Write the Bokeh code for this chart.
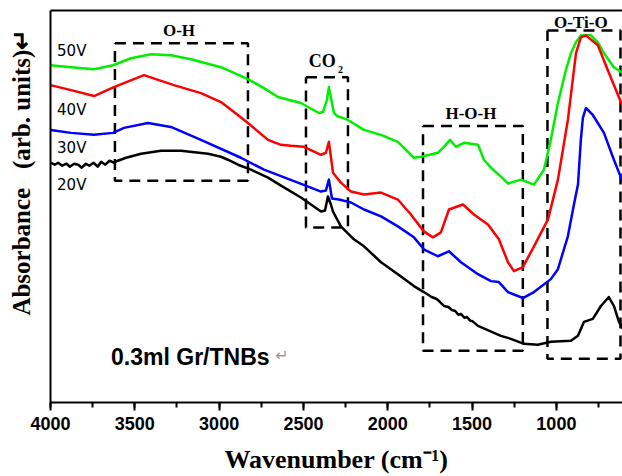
from bokeh.plotting import figure
from bokeh.models import Range1d, LinearAxis, SingleIntervalTicker, FixedTicker, Label
from bokeh.embed import file_html
from bokeh.resources import INLINE

# ---------------- data (absorbance in arbitrary units) ----------------
wn_50 = [4000, 3878, 3742, 3629, 3523, 3404, 3286, 3167, 2989, 2829, 2734, 2651, 2515, 2408, 2384,
         2361, 2349, 2337, 2319, 2301, 2236, 2141, 2040, 1940, 1845, 1803, 1703, 1667, 1631, 1596,
         1548, 1507, 1465, 1430, 1388, 1329, 1287, 1210, 1133, 1074, 1033, 991, 944, 914, 884, 855,
         825, 795, 754, 718, 659, 605]
ab_50 = [3.39, 3.37, 3.35, 3.39, 3.46, 3.50, 3.49, 3.45, 3.37, 3.25, 3.16, 3.07, 3.01, 2.91, 2.92,
         3.04, 3.17, 3.06, 2.91, 2.88, 2.84, 2.74, 2.69, 2.62, 2.46, 2.47, 2.51, 2.57, 2.64, 2.57,
         2.61, 2.60, 2.59, 2.44, 2.36, 2.27, 2.20, 2.24, 2.19, 2.34, 2.64, 3.01, 3.34, 3.51, 3.62, 3.69,
         3.69, 3.69, 3.62, 3.51, 3.37, 3.31]

wn_40 = [4000, 3878, 3742, 3624, 3446, 3268, 3108, 2989, 2912, 2829, 2710, 2633, 2574, 2497, 2396,
         2367, 2349, 2325, 2278, 2218, 2141, 2040, 1940, 1863, 1786, 1732, 1685, 1637, 1554, 1489,
         1406, 1341, 1287, 1252, 1199, 1133, 1050, 991, 932, 884, 855, 825, 754, 695, 647, 605]
ab_40 = [3.19, 3.14, 3.08, 3.17, 3.29, 3.19, 3.11, 3.02, 2.92, 2.81, 2.64, 2.59, 2.58, 2.57, 2.49,
         2.51, 2.62, 2.31, 2.21, 2.12, 2.09, 2.11, 2.04, 1.89, 1.72, 1.66, 1.71, 1.94, 1.99, 1.89,
         1.79, 1.64, 1.41, 1.32, 1.36, 1.57, 1.84, 2.24, 2.84, 3.51, 3.67, 3.69, 3.59, 3.34, 3.14, 2.97]

wn_30 = [4000, 3878, 3742, 3629, 3564, 3422, 3286, 3108, 2871, 2734, 2533, 2396, 2367, 2349, 2331,
         2290, 2218, 2141, 2040, 1940, 1845, 1786, 1703, 1637, 1566, 1465, 1388, 1341, 1287, 1199,
         1133, 1033, 991, 932, 896, 872, 855, 843, 825, 784, 718, 659, 605]
ab_30 = [2.74, 2.71, 2.69, 2.71, 2.76, 2.81, 2.77, 2.64, 2.46, 2.34, 2.21, 2.12, 2.13, 2.24, 2.05,
         2.04, 2.01, 1.94, 1.87, 1.77, 1.66, 1.54, 1.47, 1.52, 1.41, 1.29, 1.22, 1.21, 1.11, 1.05,
         1.11, 1.24, 1.34, 1.67, 1.99, 2.19, 2.64, 2.86, 2.96, 2.89, 2.71, 2.44, 2.21]

wn_20 = [4000, 3975, 3955, 3930, 3905, 3885, 3860, 3835, 3815, 3790, 3770, 3745, 3720, 3700, 3675,
         3650, 3625, 3600, 3552, 3463, 3345, 3226, 3066, 2989, 2948, 2888, 2811, 2710, 2633, 2515,
         2396, 2372, 2355, 2337, 2325, 2278, 2201, 2141, 2040, 1940, 1845, 1786, 1740, 1710, 1690,
         1667, 1640, 1620, 1600, 1580, 1566, 1545, 1530, 1510, 1500, 1465, 1329, 1270, 1193, 1110,
         1033, 914, 872, 837, 784, 736, 689, 659, 629, 605]
ab_20 = [2.41, 2.39, 2.41, 2.38, 2.40, 2.37, 2.40, 2.39, 2.36, 2.40, 2.38, 2.41, 2.37, 2.42, 2.39,
         2.43, 2.41, 2.43, 2.46, 2.50, 2.53, 2.53, 2.50, 2.47, 2.44, 2.39, 2.34, 2.26, 2.18, 2.06,
         1.92, 1.93, 2.07, 1.99, 1.92, 1.77, 1.64, 1.57, 1.41, 1.29, 1.17, 1.11, 1.06, 1.04, 1.01,
         0.97, 0.96, 0.93, 0.92, 0.88, 0.89, 0.85, 0.86, 0.82, 0.82, 0.77, 0.67, 0.64, 0.59, 0.58,
         0.61, 0.62, 0.67, 0.81, 0.84, 0.97, 1.06, 0.97, 0.81, 0.74]

series_names = ["50V", "40V", "30V", "20V"]
series_colors = ["#00ee00", "#ff0000", "#0000ff", "#000000"]

# dashed boxes: (left, right, bottom, top) in wavenumber / absorbance units
box_names = ["O-H", "CO2", "H-O-H", "O-Ti-O"]
box_bounds = [(3618, 2829, 2.23, 3.61), (2485, 2236, 1.76, 3.27),
              (1791, 1199, 0.52, 2.78), (1053, 620, 0.44, 3.74)]

x_title = "Wavenumber (cm⁻¹)"
y_title = "\u00a0" * 11 + "Absorbance\u00a0\u00a0\u00a0(arb. units)↵"

# ---------------- figure ----------------
p = figure(width=622, height=476, output_backend="svg", toolbar_location=None,
           x_range=Range1d(4000, 608), y_range=Range1d(0, 3.94),
           x_axis_location=None, y_axis_location=None,
           min_border_left=50, min_border_right=0, min_border_top=10, min_border_bottom=72)
p.outline_line_color = None
p.grid.grid_line_color = None
p.background_fill_color = "white"
p.border_fill_color = "white"

xaxis = LinearAxis(ticker=SingleIntervalTicker(interval=500, num_minor_ticks=2))
xaxis.axis_line_width = 2
xaxis.major_tick_line_width = 2
xaxis.minor_tick_line_width = 2
xaxis.major_tick_in = 0
xaxis.major_tick_out = 8
xaxis.minor_tick_in = 0
xaxis.minor_tick_out = 5
xaxis.major_label_standoff = 6
xaxis.major_label_text_font = "Liberation Sans"
xaxis.major_label_text_font_style = "bold"
xaxis.major_label_text_font_size = "18px"
xaxis.major_label_text_color = "black"
xaxis.axis_label = x_title
xaxis.axis_label_text_font = "Liberation Serif"
xaxis.axis_label_text_font_style = "bold"
xaxis.axis_label_text_font_size = "26px"
xaxis.axis_label_text_color = "black"
xaxis.axis_label_standoff = 12
p.add_layout(xaxis, "below")

yaxis = LinearAxis(ticker=FixedTicker(ticks=[]))
yaxis.axis_line_width = 2
yaxis.major_tick_out = 0
yaxis.major_label_text_font_size = "0px"
yaxis.major_label_standoff = 0
yaxis.axis_label = y_title
yaxis.axis_label_text_font = "Liberation Serif"
yaxis.axis_label_text_font_style = "bold"
yaxis.axis_label_text_font_size = "25px"
yaxis.axis_label_text_color = "black"
yaxis.axis_label_standoff = 16
p.add_layout(yaxis, "left")

topaxis = LinearAxis(ticker=FixedTicker(ticks=[]))
topaxis.axis_line_width = 2
topaxis.major_tick_out = 0
topaxis.major_label_text_font_size = "0px"
topaxis.major_label_standoff = 0
p.add_layout(topaxis, "above")

# dashed boxes
for (l, r, b, t) in box_bounds:
    p.line([l, r, r, l, l], [t, t, b, b, t], line_color="black", line_width=2.5,
           line_dash="11 7")

# spectra
for wn, ab, c in zip([wn_50, wn_40, wn_30, wn_20], [ab_50, ab_40, ab_30, ab_20], series_colors):
    p.line(wn, ab, line_color=c, line_width=2.5, line_join="round")

def lab(x, y, text, size, font="Liberation Serif", style="bold", color="black",
        align="center", angle=0.0):
    p.add_layout(Label(x=x, y=y, text=text, text_font=font, text_font_style=style,
                       text_font_size=size, text_color=color, text_align=align,
                       text_baseline="middle", angle=angle))

# box titles
lab(3238, 3.74, "O-H", "17px")
lab(2389, 3.435, "CO", "18px")
lab(2281, 3.35, "2", "10px")
lab(1507, 2.90, "H-O-H", "17px")
lab(855, 3.82, "O-Ti-O", "17px")

# series labels
for name, yv in zip(series_names, [3.535, 2.935, 2.555, 2.19]):
    lab(3961, yv, name, "15px", font="DejaVu Sans", style="normal", align="left")

# sample label
lab(3641, 0.46, "0.3ml Gr/TNBs", "23px", font="Liberation Sans", style="bold", align="left")
lab(2627, 0.47, "↵", "16px", font="DejaVu Sans", style="normal", color="#9a9a9a")

open("out.html", "w").write(file_html(p, INLINE))
